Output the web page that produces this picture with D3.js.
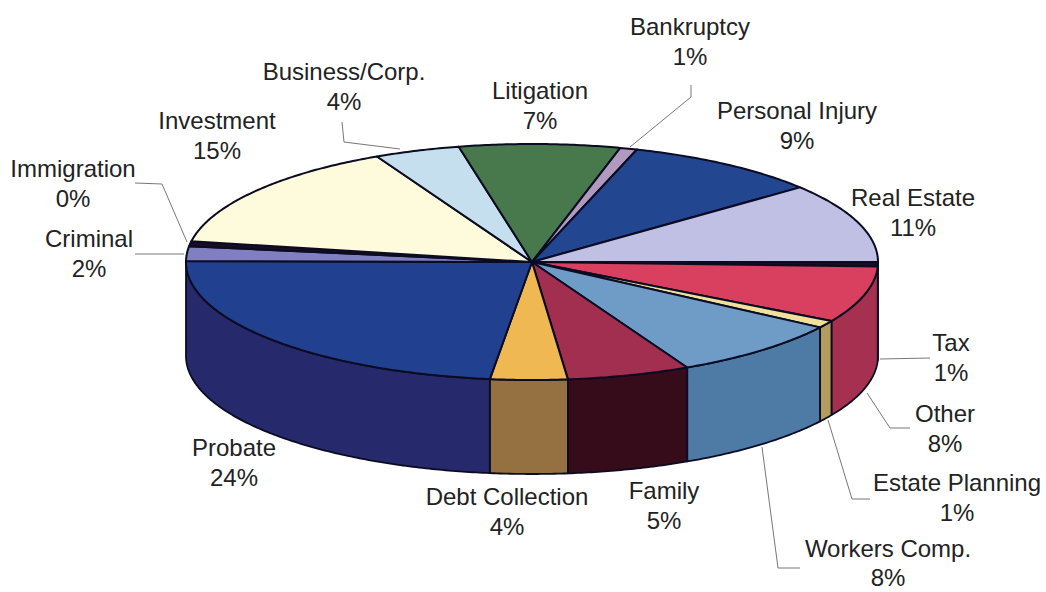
<!DOCTYPE html>
<html>
<head>
<meta charset="utf-8">
<script src="https://d3js.org/d3.v7.min.js"></script>
<style>
    html, body { margin: 0; padding: 0; background: #fff; }
    svg { display: block; }
    .slice, .wall { stroke: #0b0b22; stroke-linejoin: round; }
    .slice { stroke-width: 2; }
    .wall { stroke-width: 1.8; }
    .leader { fill: none; stroke: #777; stroke-width: 1; }
    text { font-family: "Liberation Sans", Arial, sans-serif; font-size: 24px; fill: #222; text-anchor: middle; }
</style>
</head>
<body>
<div id="chart"></div>
<script>
// Slices, clockwise from 3 o'clock
var categories = ["Tax", "Other", "Estate Planning", "Workers Comp.", "Family", "Debt Collection", "Probate",
    "Criminal", "Immigration", "Investment", "Business/Corp.", "Litigation", "Bankruptcy", "Personal Injury", "Real Estate"];
var shares = [0.6, 7.75, 1, 8.25, 5.75, 3.6, 23.2, 2, 0.67, 14.8, 4, 7.5, 0.8, 9.2, 10.9];
var percentLabels = ["1%", "8%", "1%", "8%", "5%", "4%", "24%", "2%", "0%", "15%", "4%", "7%", "1%", "9%", "11%"];

var topColors = ["#1a0c22", "#d93f5e", "#efe09c", "#6f9cc6", "#a32f50", "#f0b852", "#21408f",
    "#7f7fc2", "#1a0c22", "#fdfbdc", "#c6dfee", "#47794c", "#b09ac0", "#22468f", "#c0c0e4"];
var wallColors = ["#1a0c22", "#a5304f", "#b39c5c", "#4e7aa6", "#360b1a", "#957040", "#262a6c",
    "#3a3a80", "#1a0c22", "#fdfbdc", "#c6dfee", "#47794c", "#b09ac0", "#22468f", "#c0c0e4"];

var width = 1046;
var height = 592;

// Ellipse of the pie top and thickness of the disc
var cx = 532, cy = 262, rx = 346, ry = 118, depth = 94;

// Label centres, same order as categories
var labelPos = [[951, 343], [945, 414], [957, 483], [888, 548.5], [664, 491], [507, 497], [234, 448],
    [89, 239], [73, 169], [217, 121], [344, 72], [540, 91], [690, 27], [797, 111], [913, 198]];
var lineGap = 29.5;

// Leader lines
var leaders = [
    [[880, 359], [930, 358]],
    [[867, 393], [890, 428], [910, 428]],
    [[828, 420], [852, 499], [870, 499]],
    [[762, 447], [778, 568], [800, 568]],
    [[135, 254], [184, 254]],
    [[135, 183], [162, 184], [187, 242]],
    [[342, 122], [344, 142], [400, 149]],
    [[691, 85], [691, 97], [630, 147]]
];

var x = d3.scaleLinear().domain([-1, 1]).range([cx - rx, cx + rx]);
var y = d3.scaleLinear().domain([-1, 1]).range([cy - ry, cy + ry]);

var pie = d3.pie()
    .sort(null)
    .value(function (d) { return d; })
    .startAngle(Math.PI / 2)
    .endAngle(Math.PI / 2 + 2 * Math.PI);

var arcs = pie(shares);

// Points on the rim between two pie angles, dy pushes them down the side
function rim(a0, a1, dy) {
    var n = Math.max(2, Math.ceil((a1 - a0) / 0.01));
    return d3.range(n + 1).map(function (i) {
        var a = a0 + (a1 - a0) * i / n;
        return [x(Math.sin(a)), y(-Math.cos(a)) + dy];
    });
}

var line = d3.line();

var svg = d3.select("#chart")
    .append("svg")
    .attr("width", width)
    .attr("height", height);

// Front wall, only the part between 3 and 9 o'clock shows
var frontStart = Math.PI / 2;
var frontEnd = 3 * Math.PI / 2;

svg.selectAll(".wall")
    .data(arcs.filter(function (d) { return d.startAngle < frontEnd && d.endAngle > frontStart; }))
    .enter()
    .append("path")
    .attr("class", "wall")
    .attr("fill", function (d) { return wallColors[d.index]; })
    .attr("d", function (d) {
        var a0 = Math.max(d.startAngle, frontStart);
        var a1 = Math.min(d.endAngle, frontEnd);
        return line(rim(a0, a1, 0).concat(rim(a0, a1, depth).reverse())) + "Z";
    });

// Top of the pie
svg.selectAll(".slice")
    .data(arcs)
    .enter()
    .append("path")
    .attr("class", "slice")
    .attr("fill", function (d) { return topColors[d.index]; })
    .attr("d", function (d) {
        return line([[x(0), y(0)]].concat(rim(d.startAngle, d.endAngle, 0))) + "Z";
    });

svg.selectAll(".leader")
    .data(leaders)
    .enter()
    .append("path")
    .attr("class", "leader")
    .attr("d", line);

// Labels, name over percent
var labels = svg.selectAll(".label")
    .data(categories)
    .enter()
    .append("g")
    .attr("class", "label")
    .attr("transform", function (d, i) { return "translate(" + labelPos[i] + ")"; });

labels.append("text")
    .attr("dy", 8)
    .text(function (d) { return d; });

labels.append("text")
    .attr("dy", 8 + lineGap)
    .text(function (d, i) { return percentLabels[i]; });
</script>
</body>
</html>
